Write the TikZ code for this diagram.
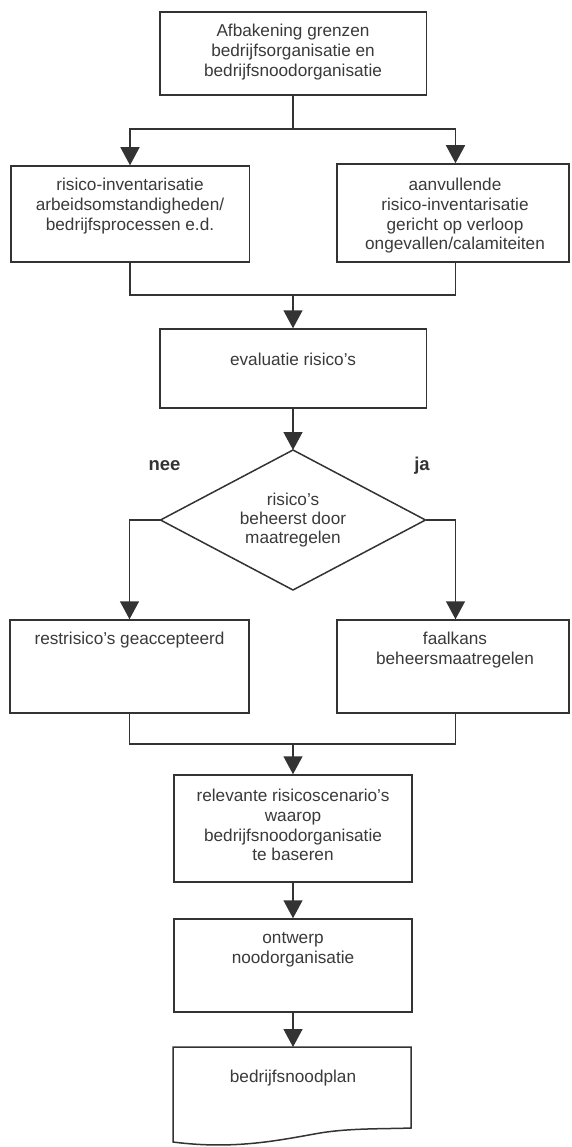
\documentclass[tikz,border=0pt]{standalone}
\usepackage{fontspec}
\setmainfont{Liberation Sans}
\usetikzlibrary{arrows.meta}
\definecolor{linec}{HTML}{333333}
\definecolor{textc}{HTML}{3A3A3A}
\newcommand\boxfont{\fontsize{17.2}{19.7}\selectfont}
\newcommand\labfont{\fontsize{18.5}{20}\selectfont\bfseries}
\tikzset{
  line/.style={draw=linec, line width=1.5pt},
  arr/.style={-{Triangle[length=18pt,width=19pt]}},
  box/.style={line, rectangle, inner sep=0pt},
  txt/.style={anchor=north, inner sep=0pt, align=center, font=\boxfont, text=textc},
  lab/.style={anchor=base, inner sep=0pt, font=\labfont, text=linec}
}
\begin{document}
\begin{tikzpicture}[x=1pt,y=-1pt]
\fill[white] (0,0) rectangle (571,1147);
\useasboundingbox (0,0) rectangle (571,1147);
% boxes
\node[box, minimum width=266.5pt, minimum height=83pt] (top) at (293,53.5) {};
\node[box, minimum width=238.5pt, minimum height=96pt] (l1) at (130,214) {};
\node[box, minimum width=232pt, minimum height=98pt] (r1) at (453,213) {};
\node[box, minimum width=266.5pt, minimum height=79pt] (eval) at (293,368.5) {};
\node[box, minimum width=239pt, minimum height=93pt] (l2) at (129.5,666.5) {};
\node[box, minimum width=232pt, minimum height=93pt] (r2) at (453,666.5) {};
\node[box, minimum width=238pt, minimum height=107pt] (rel) at (293,828.5) {};
\node[box, minimum width=238pt, minimum height=93pt] (ont) at (293,965.5) {};
% diamond
\coordinate (dT) at (293,450);
\coordinate (dR) at (425.5,520);
\coordinate (dB) at (293,590);
\coordinate (dL) at (160.5,520);
\draw[line, line join=miter] (dT) -- (dR) -- (dB) -- (dL) -- cycle;
% document shape
\coordinate (docT) at (293,1047);
\coordinate (docTL) at (173,1047);
\coordinate (docTR) at (411,1047);
\coordinate (docBL) at (173,1142);
\coordinate (docBR) at (411,1128);
\draw[line] (docTL) -- (docTR) -- (docBR)
  .. controls (385,1129) and (350,1128) .. (320,1133)
  .. controls (280,1140) and (235,1150) .. (docBL) -- cycle;
% texts
\node[txt] (toptext) at (293,22.7) {\strut Afbakening grenzen\\bedrijfsorganisatie en\\bedrijfsnoodorganisatie};
\node[txt] (l1text) at (130,176.7) {\strut risico-inventarisatie\\arbeidsomstandigheden/\\bedrijfsprocessen e.d.};
\node[txt] (r1text) at (455,176.7) {\strut aanvullende\\risico-inventarisatie\\gericht op verloop\\ongevallen/calamiteiten};
\node[txt] (evaltext) at (293,351.7) {\strut evaluatie risico's};
\node[txt, font=\fontsize{17.2}{19}\selectfont] (dtext) at (293,491.9) {\strut risico's\\beheerst door\\maatregelen};
\node[txt] (l2text) at (129.5,630.7) {\strut restrisico's geaccepteerd};
\node[txt] (r2text) at (455,630.7) {\strut faalkans\\beheersmaatregelen};
\node[txt] (reltext) at (293,787.7) {\strut relevante risicoscenario's\\waarop\\bedrijfsnoodorganisatie\\te baseren};
\node[txt] (onttext) at (293,929.7) {\strut ontwerp\\noodorganisatie};
\node[txt] (doctext) at (293,1068.7) {\strut bedrijfsnoodplan};
\node[lab] (nee) at (164.5,470) {nee};
\node[lab] (ja) at (422,470) {ja};
% connectors
\coordinate (s1) at (293,129);
\draw[line] (top.south) -- (s1);
\draw[line,arr] (s1) -| (l1.north);
\draw[line,arr] (s1) -| ([xshift=2.5pt]r1.north);
\coordinate (j1) at (293,295);
\draw[line] (l1.south) |- (j1);
\draw[line] ([xshift=2.5pt]r1.south) |- (j1);
\draw[line,arr] (j1) -- (eval.north);
\draw[line,arr] (eval.south) -- (dT);
\draw[line,arr] (dL) -| (l2.north);
\draw[line,arr] (dR) -| ([xshift=2.5pt]r2.north);
\coordinate (j2) at (293,744);
\draw[line] (l2.south) |- (j2);
\draw[line] ([xshift=2.5pt]r2.south) |- (j2);
\draw[line,arr] (j2) -- (rel.north);
\draw[line,arr] (rel.south) -- (ont.north);
\draw[line,arr] (ont.south) -- (docT);
\end{tikzpicture}
\end{document}
